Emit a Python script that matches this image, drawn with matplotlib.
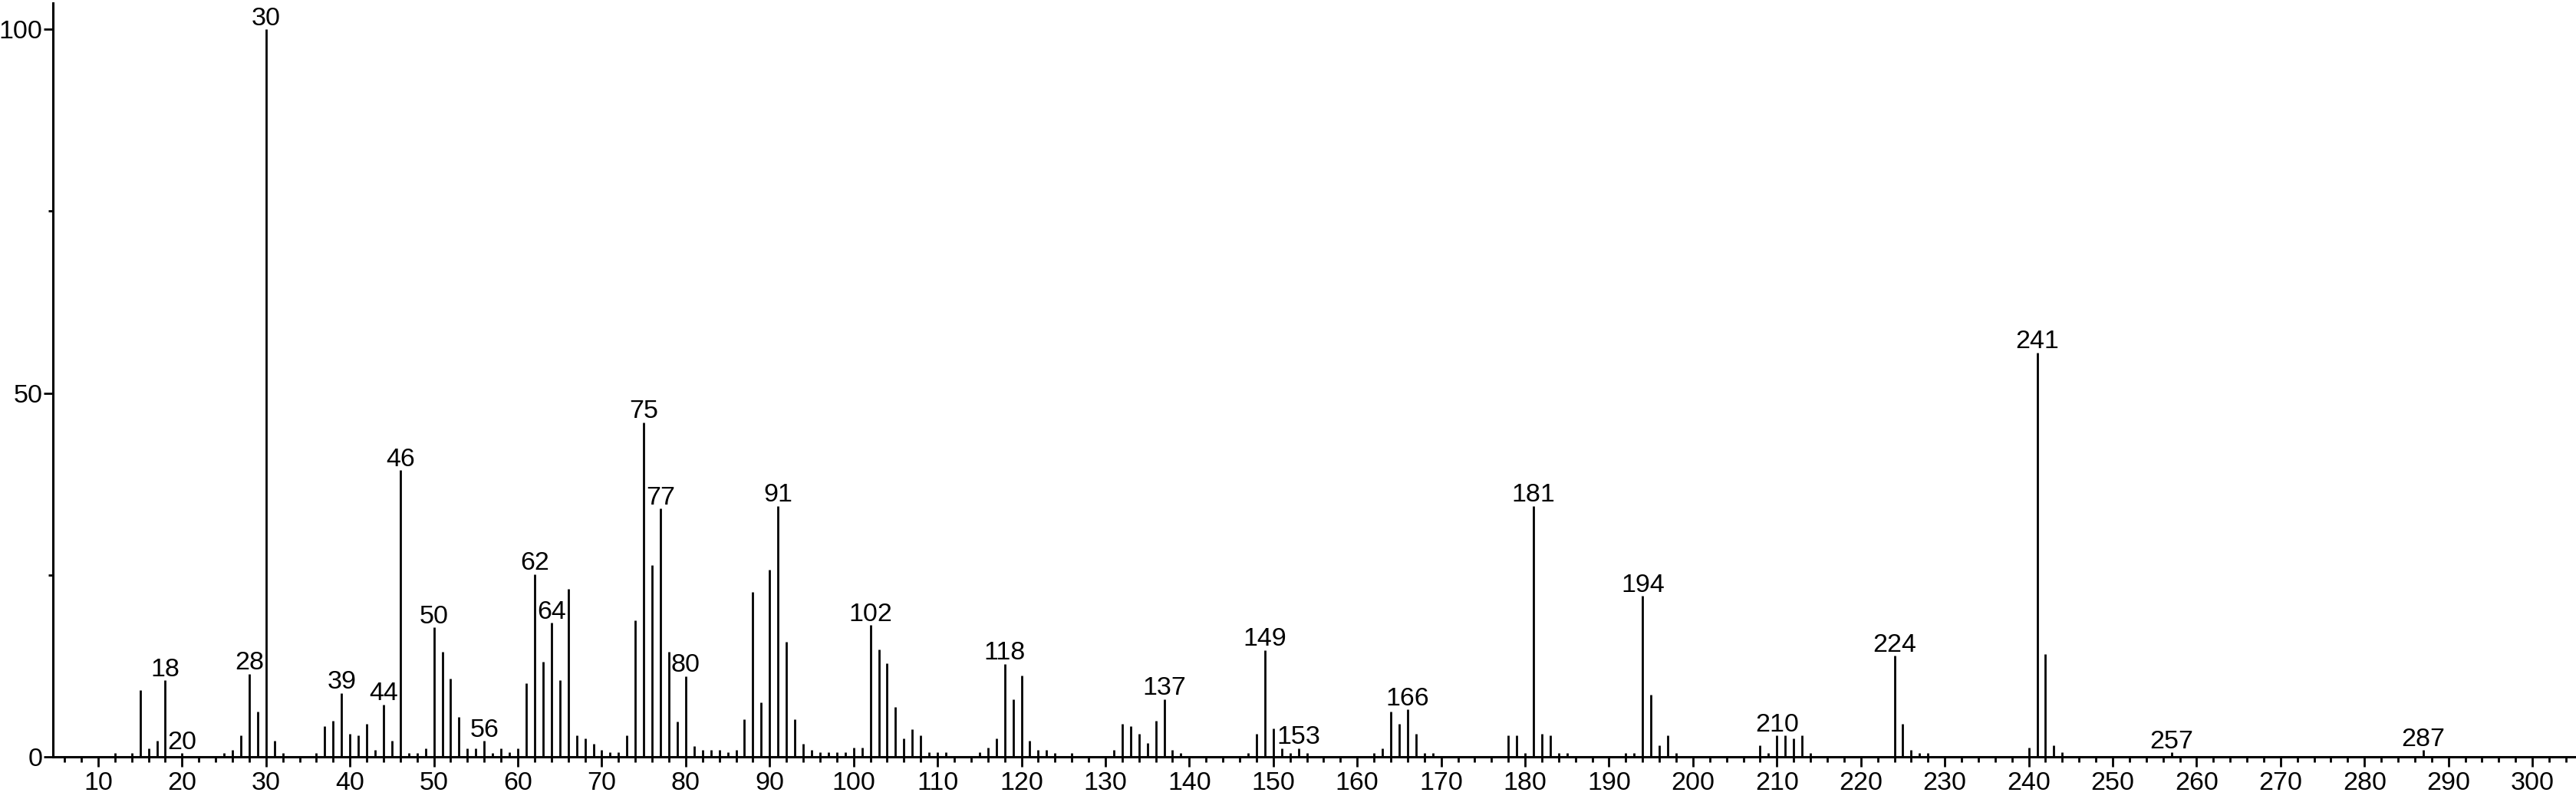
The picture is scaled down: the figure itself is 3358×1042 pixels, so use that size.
import matplotlib
matplotlib.use("Agg")
import matplotlib.pyplot as plt
from matplotlib.ticker import MultipleLocator, FixedLocator

plt.rcParams['font.family'] = ['Liberation Sans', 'DejaVu Sans']

# m/z values and relative intensities
mz = [12, 14, 15, 16, 17, 18, 20, 25, 26, 27, 28, 29, 30, 31, 32,
      36, 37, 38, 39, 40, 41, 42, 43, 44, 45, 46, 47, 48, 49, 50,
      51, 52, 53, 54, 55, 56, 57, 58, 59, 60, 61, 62, 63, 64, 65,
      66, 67, 68, 69, 70, 71, 72, 73, 74, 75, 76, 77, 78, 79, 80,
      81, 82, 83, 84, 85, 86, 87, 88, 89, 90, 91, 92, 93, 94, 95,
      96, 97, 98, 99, 100, 101, 102, 103, 104, 105, 106, 107, 108, 109, 110,
      111, 115, 116, 117, 118, 119, 120, 121, 122, 123, 124, 126,
      131, 132, 133, 134, 135, 136, 137, 138, 139,
      147, 148, 149, 150, 151, 152, 153, 154,
      162, 163, 164, 165, 166, 167, 168, 169,
      178, 179, 180, 181, 182, 183, 184, 185,
      192, 193, 194, 195, 196, 197, 198,
      208, 209, 210, 211, 212, 213, 214,
      224, 225, 226, 227, 228,
      240, 241, 242, 243, 244, 257, 287]

intensity = [0.5, 0.5, 9.2, 1.2, 2.2, 10.5, 0.5, 0.5, 0.9, 2.9, 11.4, 6.2, 100, 2.2, 0.5,
             0.5, 4.2, 4.9, 8.8, 3.2, 2.9, 4.5, 0.9, 7.2, 2.2, 39.4, 0.5, 0.5, 1.2, 17.8,
             14.4, 10.8, 5.5, 1.2, 1.2, 2.2, 0.5, 1.2, 0.6, 1.2, 10.1, 25.1, 13.1, 18.4, 10.5,
             23.1, 2.9, 2.5, 1.8, 0.9, 0.6, 0.6, 2.9, 18.8, 46.0, 26.3, 34.1, 14.4, 4.8, 11.1,
             1.5, 0.9, 0.9, 0.9, 0.6, 0.9, 5.2, 22.7, 7.5, 25.7, 34.5, 15.8, 5.2, 1.8, 0.9,
             0.6, 0.6, 0.6, 0.6, 1.3, 1.3, 18.1, 14.8, 12.9, 6.8, 2.5, 3.8, 2.9, 0.6, 0.6,
             0.6, 0.6, 1.3, 2.5, 12.8, 7.9, 11.2, 2.2, 0.9, 0.9, 0.55, 0.55,
             0.9, 4.5, 4.2, 3.2, 1.9, 4.9, 7.9, 0.9, 0.55,
             0.55, 3.2, 14.7, 3.9, 1.2, 0.55, 1.2, 0.55,
             0.55, 1.2, 6.2, 4.5, 6.5, 3.2, 0.55, 0.55,
             2.9, 2.9, 0.55, 34.5, 3.2, 2.9, 0.55, 0.55,
             0.55, 0.55, 22.1, 8.5, 1.55, 2.9, 0.55,
             1.55, 0.55, 2.9, 2.9, 2.5, 2.9, 0.55,
             13.9, 4.5, 0.9, 0.55, 0.55,
             1.3, 55.6, 14.1, 1.6, 0.6, 0.6, 0.9]

labelled = [18, 20, 28, 30, 39, 44, 46, 50, 56, 62, 64, 75, 77, 80, 91,
            102, 118, 137, 149, 153, 166, 181, 194, 210, 224, 241, 257, 287]

fig = plt.figure(figsize=(33.58, 10.42), dpi=100)
ax = fig.add_axes([0.0205, 0.0528, 0.9795, 0.9432])

ax.vlines(mz, 0, intensity, colors='black', linewidth=2.0)

height = dict(zip(mz, intensity))
for m in labelled:
    ax.annotate(str(m), (m, height[m]), xytext=(0, 4), textcoords='offset points',
                ha='center', va='baseline', fontsize=24.5, color='black')

ax.set_xlim(4.6, 305.2)
ax.set_ylim(0, 103.6)

ax.xaxis.set_major_locator(MultipleLocator(10))
ax.xaxis.set_minor_locator(MultipleLocator(2))
ax.yaxis.set_major_locator(FixedLocator([0, 50, 100]))
ax.yaxis.set_minor_locator(FixedLocator([25, 75]))

for side in ['top', 'right']:
    ax.spines[side].set_visible(False)
for side in ['left', 'bottom']:
    ax.spines[side].set_linewidth(2.2)

ax.tick_params(axis='x', which='major', direction='out', length=9.5, width=2.0,
               labelsize=24.5, pad=4)
ax.tick_params(axis='x', which='minor', direction='out', length=5, width=2.0)
ax.tick_params(axis='y', which='major', direction='out', length=8.5, width=2.0,
               labelsize=24.5, pad=1)
ax.tick_params(axis='y', which='minor', direction='out', length=4, width=2.0)

fig.savefig('out.png', dpi=100, facecolor='white')
